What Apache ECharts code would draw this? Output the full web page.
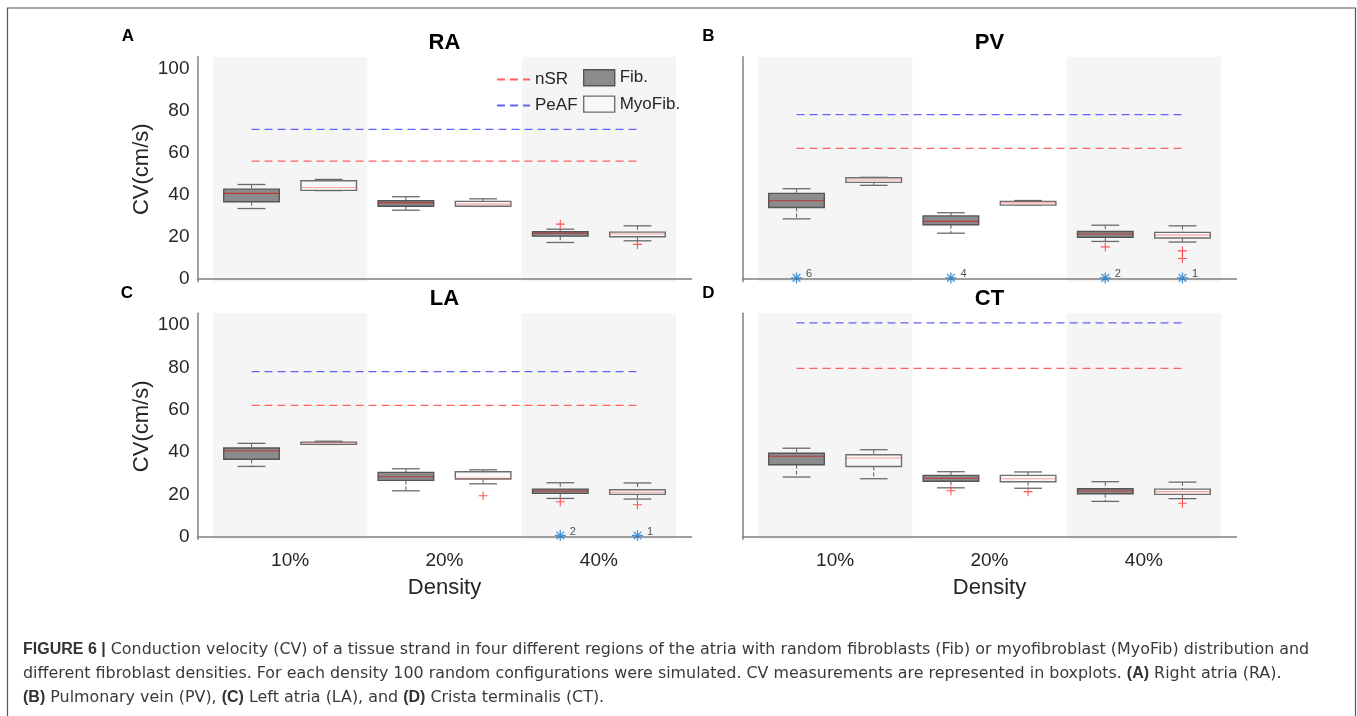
<!DOCTYPE html>
<html>
<head>
<meta charset="utf-8">
<script src="https://cdn.jsdelivr.net/npm/echarts@6/dist/echarts.min.js"></script>
<style>
  html, body { margin: 0; padding: 0; background: #fff; }
  #chart { width: 1357px; height: 716px; }
</style>
</head>
<body>
<div id="chart"></div>
<script>
var densities = ['10%', '20%', '40%'];
var yTicks = [0, 20, 40, 60, 80, 100];
var regions = ['RA', 'PV', 'LA', 'CT'];
var letters = ['A', 'B', 'C', 'D'];

// box stats [min, q1, median, q3, max] for 10%, 20%, 40%
var fibRA = [[33.5, 36.7, 40.7, 42.7, 44.9], [32.7, 34.6, 36.2, 37.2, 39.1], [17.4, 20.4, 21.8, 22.5, 23.7]];
var myoRA = [[42.0, 42.1, 43.5, 46.7, 47.3], [34.5, 34.6, 35.6, 36.9, 38.1], [18.2, 20.1, 21.4, 22.3, 25.3]];
var fibPV = [[28.6, 34.0, 37.2, 40.7, 42.9], [21.8, 25.8, 27.4, 30.0, 31.5], [17.9, 19.9, 21.4, 22.6, 25.6]];
var myoPV = [[44.5, 45.9, 47.0, 48.1, 48.3], [35.1, 35.1, 36.2, 36.9, 37.3], [17.6, 19.5, 20.9, 22.2, 25.3]];
var fibLA = [[33.2, 36.6, 40.6, 41.9, 44.1], [21.7, 26.6, 28.3, 30.4, 32.1], [18.1, 20.5, 21.6, 22.5, 25.5]];
var myoLA = [[43.6, 43.6, 44.3, 44.7, 45.1], [25.0, 27.3, 27.6, 30.7, 31.6], [17.8, 20.0, 21.0, 22.2, 25.4]];
var fibCT = [[28.2, 34.0, 38.0, 39.4, 41.8], [23.1, 26.2, 27.6, 29.0, 30.7], [16.7, 20.3, 21.6, 22.7, 26.0]];
var myoCT = [[27.4, 33.2, 37.2, 38.7, 41.1], [22.9, 26.0, 27.4, 29.0, 30.6], [18.0, 20.0, 21.3, 22.5, 25.8]];

// outliers: [density index, group (0 Fib, 1 MyoFib), CV]
var outRA = [[2, 0, 26.1], [2, 1, 16.5]];
var outPV = [[2, 0, 15.3], [2, 1, 13.4], [2, 1, 9.8]];
var outLA = [[1, 1, 19.4], [2, 0, 16.5], [2, 1, 15.1]];
var outCT = [[1, 0, 21.7], [1, 1, 21.3], [2, 1, 15.8]];

// conduction block (CV = 0): [density index, group, count]
var blockRA = [];
var blockPV = [[0, 0, 6], [1, 0, 4], [2, 0, 2], [2, 1, 1]];
var blockLA = [[2, 0, 2], [2, 1, 1]];
var blockCT = [];

// reference CV lines per region
var nsrCV = [56, 62, 62, 79.5];
var peafCV = [71, 78, 78, 101];

var fibData = [fibRA, fibPV, fibLA, fibCT];
var myoData = [myoRA, myoPV, myoLA, myoCT];
var outData = [outRA, outPV, outLA, outCT];
var blockData = [blockRA, blockPV, blockLA, blockCT];

// layout
var groupOffset = [-0.25, 0.25];
var boxWidth = 0.36;
var font = '"Liberation Sans", Arial, Helvetica, sans-serif';
var capFont = '"DejaVu Sans", sans-serif';
var grids = [
  { left: 197.5, top: 56.7, width: 494, height: 225 },
  { left: 742.5, top: 56.7, width: 494, height: 225 },
  { left: 197.5, top: 313.3, width: 494, height: 226 },
  { left: 742.5, top: 313.3, width: 494, height: 226 }
];
var letterPos = [[128, 35], [708.5, 35], [127, 292], [708.5, 292]];
var plusPath = 'path://M4.4,0 L5.6,0 L5.6,4.4 L10,4.4 L10,5.6 L5.6,5.6 L5.6,10 L4.4,10 L4.4,5.6 L0,5.6 L0,4.4 L4.4,4.4 Z';
var starPath = 'path://M4.4,0 L5.6,0 L5.6,10 L4.4,10 Z M0,4.4 L10,4.4 L10,5.6 L0,5.6 Z M1.1,1.9 L1.9,1.1 L8.9,8.1 L8.1,8.9 Z M8.1,1.1 L8.9,1.9 L1.9,8.9 L1.1,8.1 Z';

function xPos (d, g) {
  return d + 1 + groupOffset[g];
}

function boxRenderer (fill, stroke, medianColor) {
  return function (params, api) {
    var x = api.value(0);
    var w = api.size([boxWidth, 0])[0];
    var p = [1, 2, 3, 4, 5].map(function (k) { return api.coord([x, api.value(k)]); });
    var cx = p[0][0];
    var whisker = { stroke: '#6a6a6a', lineWidth: 1.1, lineDash: [4, 2] };
    var cap = { stroke: '#6a6a6a', lineWidth: 1.3 };
    return {
      type: 'group',
      children: [
        { type: 'line', shape: { x1: cx, y1: p[4][1], x2: cx, y2: p[3][1] }, style: whisker },
        { type: 'line', shape: { x1: cx, y1: p[1][1], x2: cx, y2: p[0][1] }, style: whisker },
        { type: 'line', shape: { x1: cx - w / 4, y1: p[4][1], x2: cx + w / 4, y2: p[4][1] }, style: cap },
        { type: 'line', shape: { x1: cx - w / 4, y1: p[0][1], x2: cx + w / 4, y2: p[0][1] }, style: cap },
        { type: 'rect', shape: { x: cx - w / 2, y: p[3][1], width: w, height: Math.max(p[1][1] - p[3][1], 1) },
          style: { fill: fill, stroke: stroke, lineWidth: 1.4 } },
        { type: 'line', shape: { x1: cx - w / 2, y1: p[2][1], x2: cx + w / 2, y2: p[2][1] },
          style: { stroke: medianColor, lineWidth: 1.1 } }
      ]
    };
  };
}

function bandRenderer (params, api) {
  var cs = params.coordSys;
  var a = api.coord([api.value(0), 0]);
  var b = api.coord([api.value(1), 0]);
  return { type: 'rect', shape: { x: a[0], y: cs.y, width: b[0] - a[0], height: cs.height }, style: { fill: '#f5f5f5' } };
}

function captionLine (top, text) {
  return {
    type: 'text', left: 23, top: top, silent: true,
    style: {
      text: text, fontSize: 15.9, fill: '#3a3a3a', fontFamily: capFont,
      rich: { b: { fontWeight: 'bold', fontSize: 16, fontFamily: font, fill: '#333' } }
    }
  };
}

var option = {
  animation: false,
  backgroundColor: '#fff',
  textStyle: { fontFamily: font },
  grid: grids,
  xAxis: [],
  yAxis: [],
  series: [],
  title: [],
  legend: [
    {
      left: 496, top: 71, orient: 'vertical', selectedMode: false, padding: 0,
      itemWidth: 33, itemHeight: 16, itemGap: 9,
      textStyle: { fontSize: 17, color: '#262626', fontFamily: font },
      data: [
        { name: 'nSR', itemStyle: { opacity: 0 } },
        { name: 'PeAF', itemStyle: { opacity: 0 } }
      ]
    },
    {
      left: 583, top: 69, orient: 'vertical', selectedMode: false, padding: 0,
      itemWidth: 31, itemHeight: 16, itemGap: 9,
      textStyle: { fontSize: 17, color: '#262626', fontFamily: font },
      data: [
        { name: 'Fib.', icon: 'rect', itemStyle: { color: '#8c8c8c', borderColor: '#555', borderWidth: 1.4 } },
        { name: 'MyoFib.', icon: 'rect', itemStyle: { color: '#f8f8f8', borderColor: '#6e6e6e', borderWidth: 1.4 } }
      ]
    }
  ],
  graphic: [
    { type: 'rect', shape: { x: 7.5, y: 8, width: 1348, height: 730 }, style: { fill: 'none', stroke: '#555', lineWidth: 1.2 }, silent: true },
    captionLine(642, '{b|FIGURE 6 |} Conduction velocity (CV) of a tissue strand in four different regions of the atria with random fibroblasts (Fib) or myofibroblast (MyoFib) distribution and'),
    captionLine(666, 'different fibroblast densities. For each density 100 random configurations were simulated. CV measurements are represented in boxplots. {b|(A)} Right atria (RA).'),
    captionLine(690, '{b|(B)} Pulmonary vein (PV), {b|(C)} Left atria (LA), and {b|(D)} Crista terminalis (CT).')
  ]
};

regions.forEach(function (name, i) {
  var g = grids[i];
  var bottomRow = i >= 2;
  var leftCol = i % 2 === 0;

  option.title.push({
    text: name, left: g.left + g.width / 2, top: g.top - 25, textAlign: 'center', padding: 0,
    textStyle: { fontSize: 22, fontWeight: 'bold', color: '#000', fontFamily: font }
  });
  option.title.push({
    text: letters[i], left: letterPos[i][0], top: letterPos[i][1] - 7, textAlign: 'center', padding: 0,
    textStyle: { fontSize: 17, fontWeight: 'bold', color: '#000', fontFamily: font }
  });

  option.xAxis.push({
    type: 'value', gridIndex: i, min: 0.4, max: 3.6,
    axisLine: { show: true, lineStyle: { color: '#808080', width: 1.5 } },
    axisTick: { show: false },
    splitLine: { show: false },
    axisLabel: {
      show: bottomRow, customValues: [1, 2, 3], margin: 12,
      fontSize: 19, color: '#262626', fontFamily: font,
      formatter: function (v) { return densities[Math.round(v) - 1]; }
    },
    name: bottomRow ? 'Density' : '', nameLocation: 'middle', nameGap: 38,
    nameTextStyle: { fontSize: 22, color: '#262626', fontFamily: font }
  });
  option.yAxis.push({
    type: 'value', gridIndex: i, min: -1.2, max: 105.5,
    axisLine: { show: true, lineStyle: { color: '#808080', width: 1.5 } },
    axisTick: { show: false },
    splitLine: { show: false },
    axisLabel: {
      show: leftCol, customValues: yTicks, margin: 8,
      fontSize: 19, color: '#262626', fontFamily: font
    },
    name: leftCol ? 'CV(cm/s)' : '', nameLocation: 'middle', nameGap: 45,
    nameTextStyle: { fontSize: 22, color: '#262626', fontFamily: font }
  });

  option.series.push({
    type: 'custom', name: 'bands', xAxisIndex: i, yAxisIndex: i, z: 0, silent: true,
    renderItem: bandRenderer, data: [[0.5, 1.5], [2.5, 3.5]]
  });
  option.series.push({
    type: 'line', name: 'nSR', xAxisIndex: i, yAxisIndex: i, z: 2, symbol: 'none', silent: true,
    lineStyle: { color: '#ff6262', width: 1.2, type: [8, 5] }, itemStyle: { color: '#ff6262' },
    data: [[xPos(0, 0), nsrCV[i]], [xPos(2, 1), nsrCV[i]]]
  });
  option.series.push({
    type: 'line', name: 'PeAF', xAxisIndex: i, yAxisIndex: i, z: 2, symbol: 'none', silent: true,
    lineStyle: { color: '#6262ff', width: 1.2, type: [8, 5] }, itemStyle: { color: '#6262ff' },
    data: [[xPos(0, 0), peafCV[i]], [xPos(2, 1), peafCV[i]]]
  });
  option.series.push({
    type: 'custom', name: 'Fib.', xAxisIndex: i, yAxisIndex: i, z: 3,
    itemStyle: { color: '#8c8c8c' },
    renderItem: boxRenderer('#8c8c8c', '#555555', 'rgba(200,30,30,0.75)'),
    encode: { x: 0, y: [1, 2, 3, 4, 5] },
    data: fibData[i].map(function (s, d) { return [xPos(d, 0)].concat(s); })
  });
  option.series.push({
    type: 'custom', name: 'MyoFib.', xAxisIndex: i, yAxisIndex: i, z: 3,
    itemStyle: { color: '#f8f8f8' },
    renderItem: boxRenderer('#f8f8f8', '#6e6e6e', 'rgba(255,60,60,0.45)'),
    encode: { x: 0, y: [1, 2, 3, 4, 5] },
    data: myoData[i].map(function (s, d) { return [xPos(d, 1)].concat(s); })
  });
  option.series.push({
    type: 'scatter', name: 'outliers', xAxisIndex: i, yAxisIndex: i, z: 4, silent: true,
    symbol: plusPath, symbolSize: 9, itemStyle: { color: '#ff2a2a' },
    data: outData[i].map(function (o) { return [xPos(o[0], o[1]), o[2]]; })
  });
  option.series.push({
    type: 'scatter', name: 'block', xAxisIndex: i, yAxisIndex: i, z: 4, silent: true,
    symbol: starPath, symbolSize: 11, itemStyle: { color: '#1b7ccc' },
    label: {
      show: true, position: 'right', distance: 4, offset: [0, -4],
      fontSize: 11, color: '#222', fontFamily: font,
      formatter: function (p) { return p.value[2]; }
    },
    data: blockData[i].map(function (b) { return [xPos(b[0], b[1]), 0.6, b[2]]; })
  });
});

var chart = echarts.init(document.getElementById('chart'), null, { renderer: 'canvas' });
chart.setOption(option);
</script>
</body>
</html>
